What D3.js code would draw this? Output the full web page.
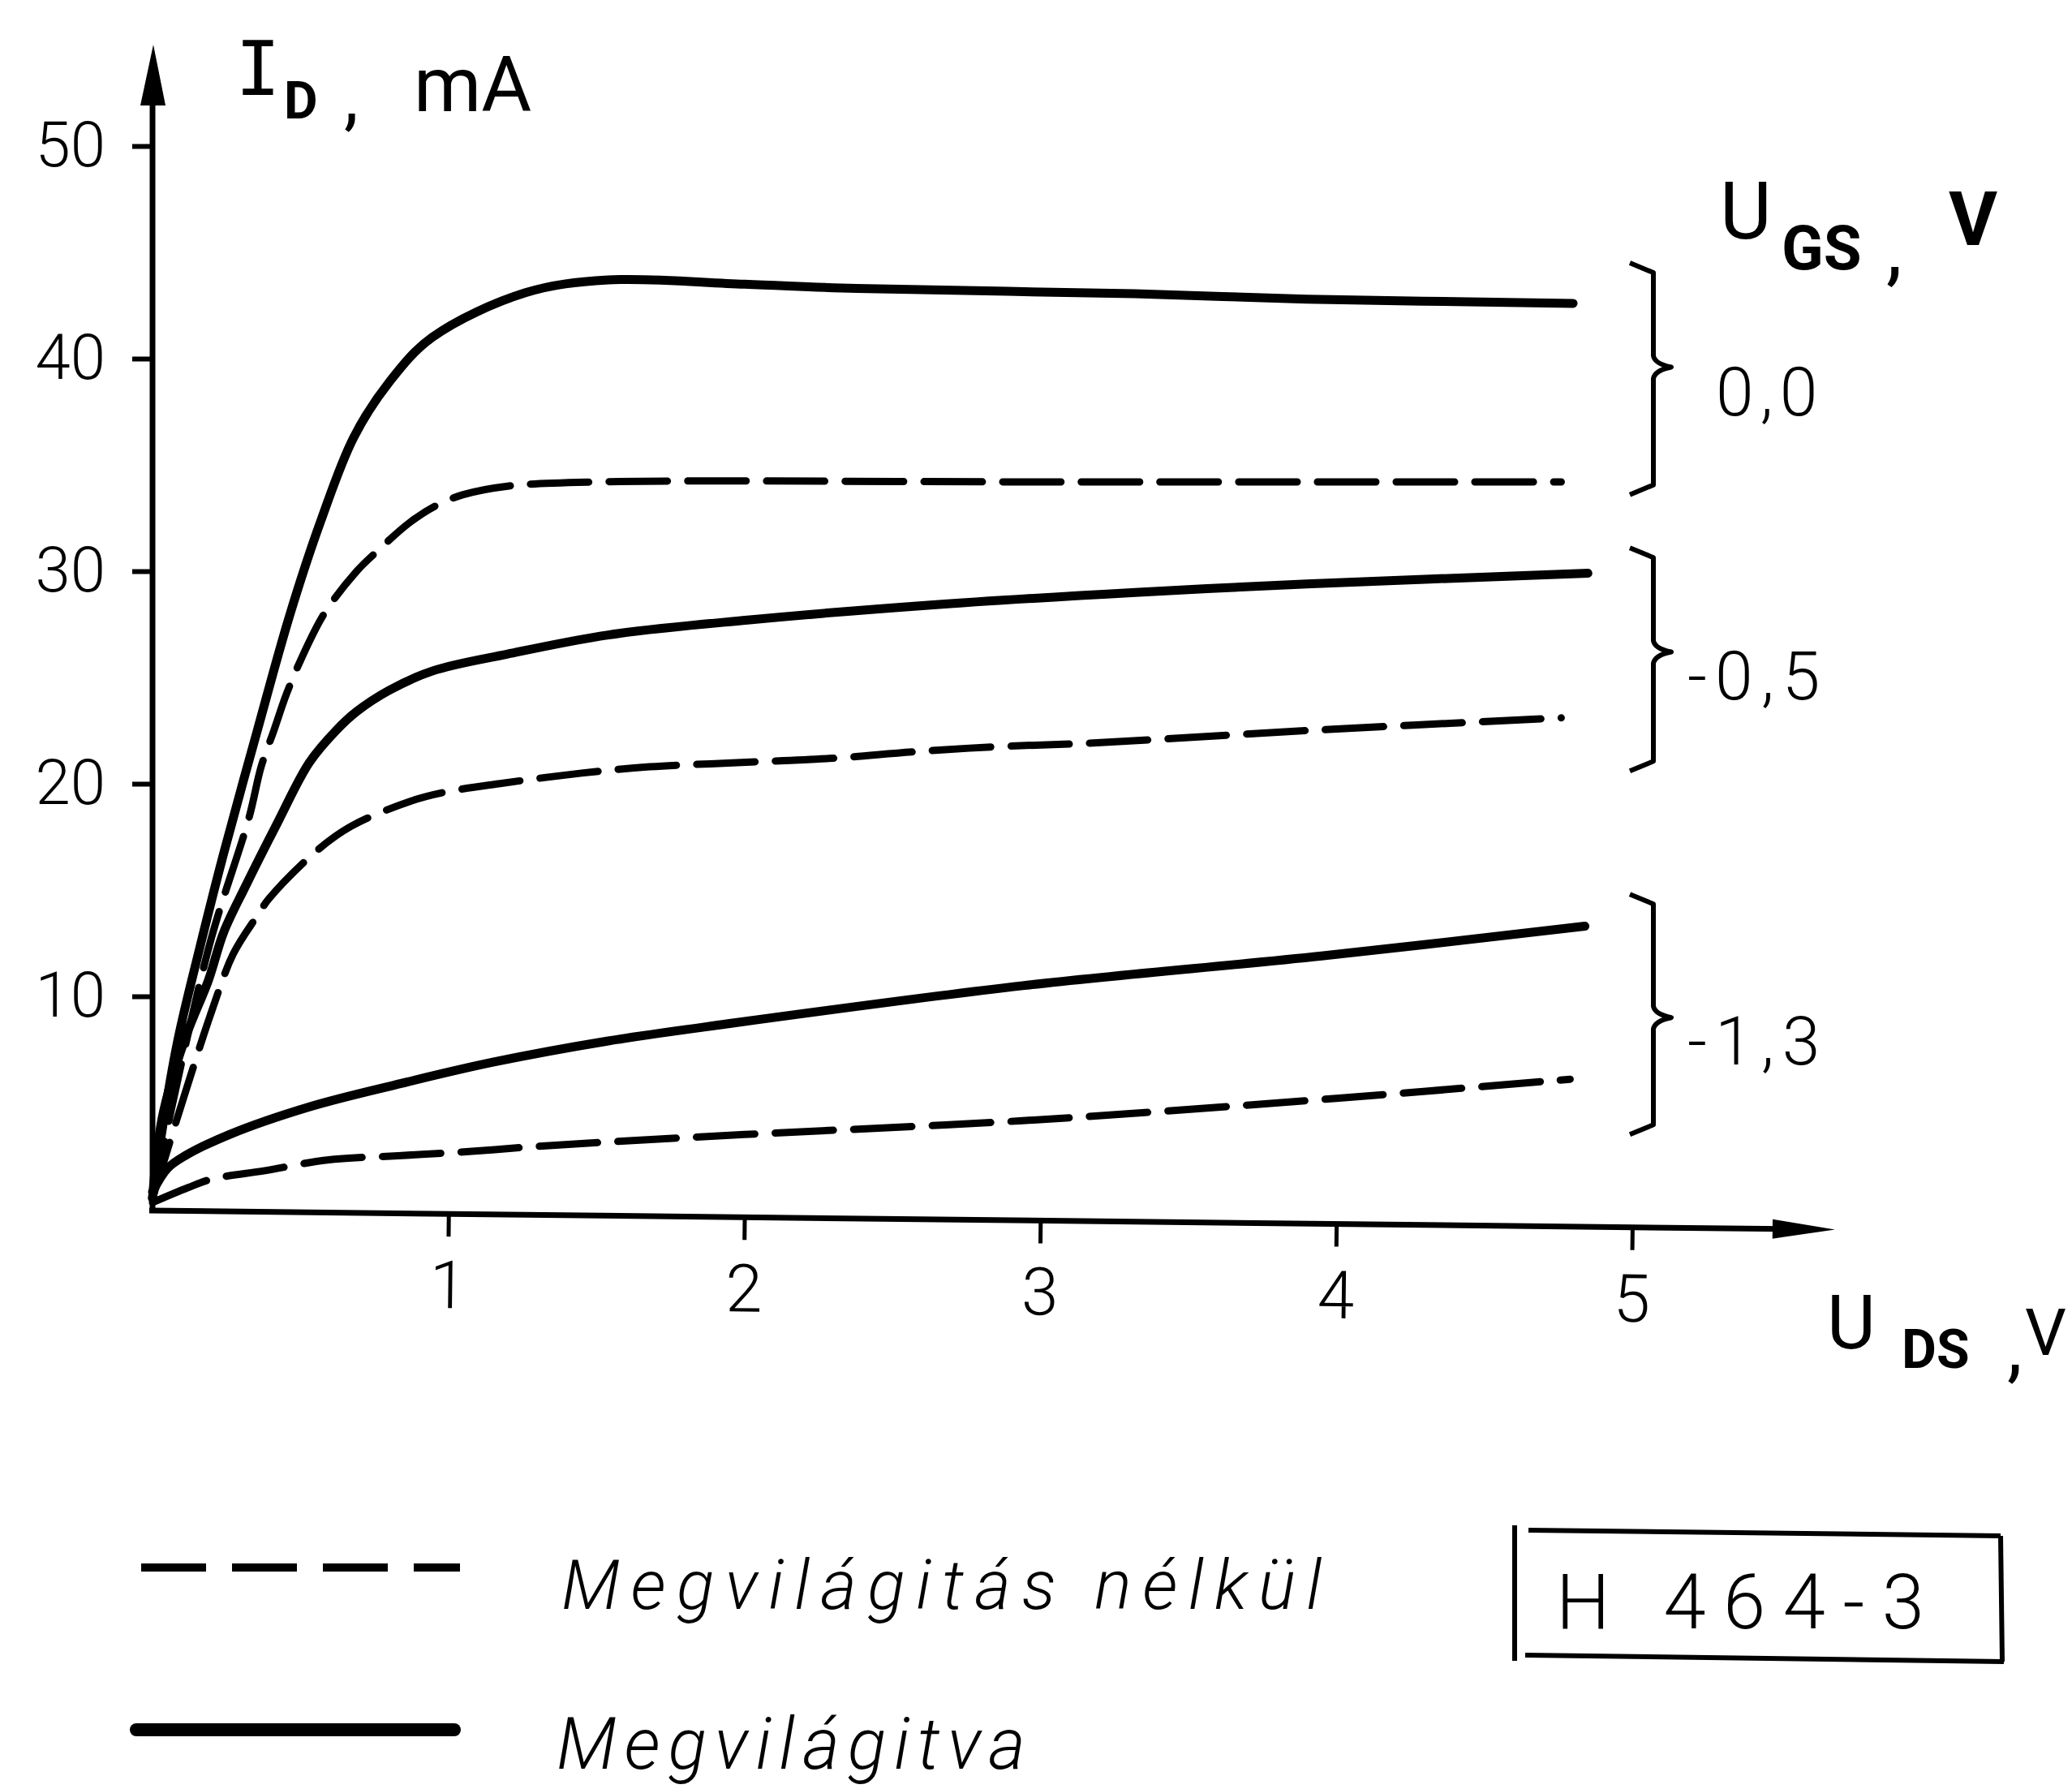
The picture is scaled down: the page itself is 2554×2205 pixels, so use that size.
<!DOCTYPE html>
<html><head><meta charset="utf-8">
<script src="https://cdn.jsdelivr.net/npm/d3@7"></script>
<style>
html,body{margin:0;padding:0;background:#fff;}
svg{display:block;}
</style></head>
<body>
<svg id="chart" width="2554" height="2205"></svg>
<script>
// ---------- data ----------
const xTicks = [1, 2, 3, 4, 5];
const yTicks = [10, 20, 30, 40, 50];

// U_GS = 0,0 V
const solidGS00 = [[0,0.5],[0.03,3.5],[0.085,7.9],[0.16,12.3],[0.24,16.7],[0.356,22.6],[0.463,27.9],[0.567,32.3],[0.68,36.3],[0.80,38.9],[0.945,41.0],[1.26,43.1],[1.54,43.7],[2.0,43.5],[2.38,43.3],[3.32,43.05],[3.9,42.8],[4.8,42.6]];
const dashedGS00 = [[0,0.5],[0.1,7.0],[0.2,12.8],[0.326,18.4],[0.367,20.8],[0.41,22.5],[0.452,24.2],[0.50,25.8],[0.58,28.0],[0.69,30.0],[0.756,30.9],[0.87,32.3],[0.96,33.1],[1.05,33.6],[1.2,34.0],[1.5,34.2],[3.0,34.2],[4.76,34.2]];
// U_GS = -0,5 V
const solidGS05 = [[0,0.5],[0.033,4.3],[0.107,7.9],[0.19,10.8],[0.24,13.0],[0.315,15.2],[0.42,18.1],[0.53,21.0],[0.62,22.5],[0.69,23.4],[0.8,24.4],[0.945,25.3],[1.2,26.1],[1.54,27.0],[2.01,27.7],[2.62,28.4],[3.32,29.0],[3.9,29.4],[4.85,29.9]];
const dashedGS05 = [[0,0.5],[0.1,5.0],[0.2,9.3],[0.273,12.0],[0.352,13.75],[0.394,14.6],[0.551,16.8],[0.671,18.0],[0.876,19.2],[0.986,19.6],[1.17,20.0],[1.45,20.5],[1.68,20.8],[1.99,21.0],[2.30,21.2],[2.57,21.5],[2.86,21.75],[3.15,21.9],[3.9,22.5],[4.76,23.1]];
// U_GS = -1,3 V
const solidGS13 = [[0,0.8],[0.05,1.9],[0.11,2.5],[0.26,3.5],[0.53,4.8],[0.84,5.9],[1.15,6.9],[1.54,7.9],[1.94,8.7],[2.94,10.5],[3.95,11.9],[4.84,13.3]];
const dashedGS13 = [[0,0.3],[0.12,1.0],[0.2,1.4],[0.38,1.8],[0.59,2.3],[0.83,2.5],[1.07,2.7],[1.26,2.9],[1.54,3.15],[2.0,3.5],[2.94,4.15],[4.0,5.2],[4.79,6.1]];

const gsLabels = ["0,0", "-0,5", "-1,3"];
const bracketTop = [44.5, 31.1, 14.8];
const bracketTip = [39.6, 26.2, 9.0];
const bracketBottom = [33.6, 20.6, 3.5];

const legendLabels = ["Megvilágitás nélkül", "Megvilágitva"];
const typeLabel = "H 464-3";

// ---------- drawing ----------
const W = 2554, H = 2205;
const svg = d3.select("#chart");
svg.append("rect").attr("width", W).attr("height", H).attr("fill", "#fff");

const x = d3.scaleLinear().domain([0, 5]).range([188, 2012]);
const y = d3.scaleLinear().domain([0, 50]).range([1490, 180]);

const FONT = "Roboto, 'DejaVu Sans', sans-serif";

// Y axis
const yAxisG = svg.append("g").attr("transform", `translate(${x(0)},0)`)
  .call(d3.axisLeft(y).tickValues(yTicks).tickSize(25).tickPadding(33).tickFormat(d3.format("d")));
yAxisG.select(".domain").remove();
yAxisG.selectAll(".tick line").attr("stroke", "#000").attr("stroke-width", 6);
yAxisG.selectAll(".tick text").attr("font-family", FONT).attr("font-size", 78)
  .attr("font-weight", 300).attr("fill", "#000");
svg.append("line").attr("x1", x(0)).attr("x2", x(0)).attr("y1", y(0) + 4).attr("y2", y(50) - 55)
  .attr("stroke", "#000").attr("stroke-width", 7);
svg.append("polygon")
  .attr("points", `${x(0)+1},${y(50)-125} ${x(0)-15},${y(50)-50} ${x(0)+16},${y(50)-50}`)
  .attr("fill", "#000");

// X axis (slightly tilted like the hand-drawn original)
const xAxisG = svg.append("g").attr("transform", `translate(0,${y(0)+2}) rotate(0.65,${x(0)},0)`);
xAxisG.call(d3.axisBottom(x).tickValues(xTicks).tickSize(28).tickPadding(30).tickFormat(d3.format("d")));
xAxisG.select(".domain").remove();
xAxisG.selectAll(".tick line").attr("stroke", "#000").attr("stroke-width", 5);
xAxisG.selectAll(".tick text").attr("font-family", FONT).attr("font-size", 82)
  .attr("font-weight", 300).attr("fill", "#000");
xAxisG.append("line").attr("x1", x(0) - 4).attr("x2", 2200).attr("y1", 0).attr("y2", 0)
  .attr("stroke", "#000").attr("stroke-width", 7);
xAxisG.append("polygon").attr("points", `2262,0 2185,-12 2185,12`).attr("fill", "#000");

// curves
const line = d3.line().x(d => x(d[0])).y(d => y(d[1])).curve(d3.curveCatmullRom.alpha(0.5));
const solids = [solidGS00, solidGS05, solidGS13];
const dashes = [dashedGS00, dashedGS05, dashedGS13];
svg.append("g").selectAll("path").data(dashes).join("path")
  .attr("d", line).attr("fill", "none").attr("stroke", "#000").attr("stroke-width", 9)
  .attr("stroke-dasharray", "72,25").attr("stroke-linecap", "round");
svg.append("g").selectAll("path").data(solids).join("path")
  .attr("d", line).attr("fill", "none").attr("stroke", "#000").attr("stroke-width", 11)
  .attr("stroke-linecap", "round").attr("stroke-linejoin", "round");

// brackets with U_GS values
const hookX = 2009, barX = 2038, tipX = 2060;
const bg = svg.append("g");
gsLabels.forEach((lab, i) => {
  const t = y(bracketTop[i]), b = y(bracketBottom[i]), m = y(bracketTip[i]);
  bg.append("path")
    .attr("d", `M${hookX},${t} L${barX},${t+12} L${barX},${m-14} Q${barX+2},${m-4} ${tipX},${m} Q${barX+2},${m+4} ${barX},${m+14} L${barX},${b-12} L${hookX},${b}`)
    .attr("fill", "none").attr("stroke", "#000").attr("stroke-width", 6).attr("stroke-linejoin", "round");
  bg.append("text").attr("x", i === 0 ? 2115 : 2080).attr("y", m + (i === 0 ? 60 : 58))
    .attr("font-family", FONT).attr("font-size", 84).attr("font-weight", 300)
    .attr("letter-spacing", i === 0 ? 8 : 10)
    .text(lab);
});

// axis titles
function t(txt, px, py, size, weight, fam, anchor) {
  return svg.append("text").attr("x", px).attr("y", py).attr("font-family", fam || FONT)
    .attr("font-size", size).attr("font-weight", weight || 400)
    .attr("text-anchor", anchor || "start").text(txt);
}
t("I", 318, 117, 92, 400, "'DejaVu Sans Mono', monospace", "middle");
t("D", 350, 146, 64, 700);
t(",", 424, 150, 90, 400);
t("mA", 510, 137, 95, 400);

t("U", 2120, 294, 98, 400);
t("GS", 2196, 332, 76, 700);
t(",", 2325, 340, 100, 400);
t("V", 2402, 302, 92, 700);

t("U", 2252, 1662, 92, 400);
t("DS", 2344, 1686, 66, 700);
t(",", 2474, 1692, 95, 400);
t("V", 2496, 1670, 80, 400);

// legend
const lg = svg.append("g");
lg.append("line").attr("x1", 174).attr("x2", 567).attr("y1", 1932).attr("y2", 1932)
  .attr("stroke", "#000").attr("stroke-width", 10).attr("stroke-dasharray", "80,32");
lg.append("line").attr("x1", 168).attr("x2", 560).attr("y1", 2132).attr("y2", 2132)
  .attr("stroke", "#000").attr("stroke-width", 16).attr("stroke-linecap", "round");
lg.append("text").attr("x", 692).attr("y", 1983).attr("font-family", FONT).attr("font-size", 86)
  .attr("font-weight", 300).attr("font-style", "italic")
  .attr("textLength", 937).attr("lengthAdjust", "spacing").text(legendLabels[0]);
lg.append("text").attr("x", 686).attr("y", 2180).attr("font-family", FONT).attr("font-size", 88)
  .attr("font-weight", 300).attr("font-style", "italic")
  .attr("textLength", 578).attr("lengthAdjust", "spacing").text(legendLabels[1]);

// type box
const box = svg.append("g").attr("stroke", "#000").attr("stroke-width", 6);
box.append("line").attr("x1", 1867).attr("x2", 1867).attr("y1", 1880).attr("y2", 2047);
box.append("line").attr("x1", 1884).attr("x2", 2466).attr("y1", 1886).attr("y2", 1893);
box.append("line").attr("x1", 2466).attr("x2", 2468).attr("y1", 1893).attr("y2", 2048);
box.append("line").attr("x1", 1880).attr("x2", 2470).attr("y1", 2040).attr("y2", 2048);
svg.append("text").attr("x", 1918).attr("y", 2007).attr("font-family", FONT).attr("font-size", 94)
  .attr("font-weight", 300).attr("textLength", 454).attr("lengthAdjust", "spacing").text(typeLabel);
</script>
</body></html>
